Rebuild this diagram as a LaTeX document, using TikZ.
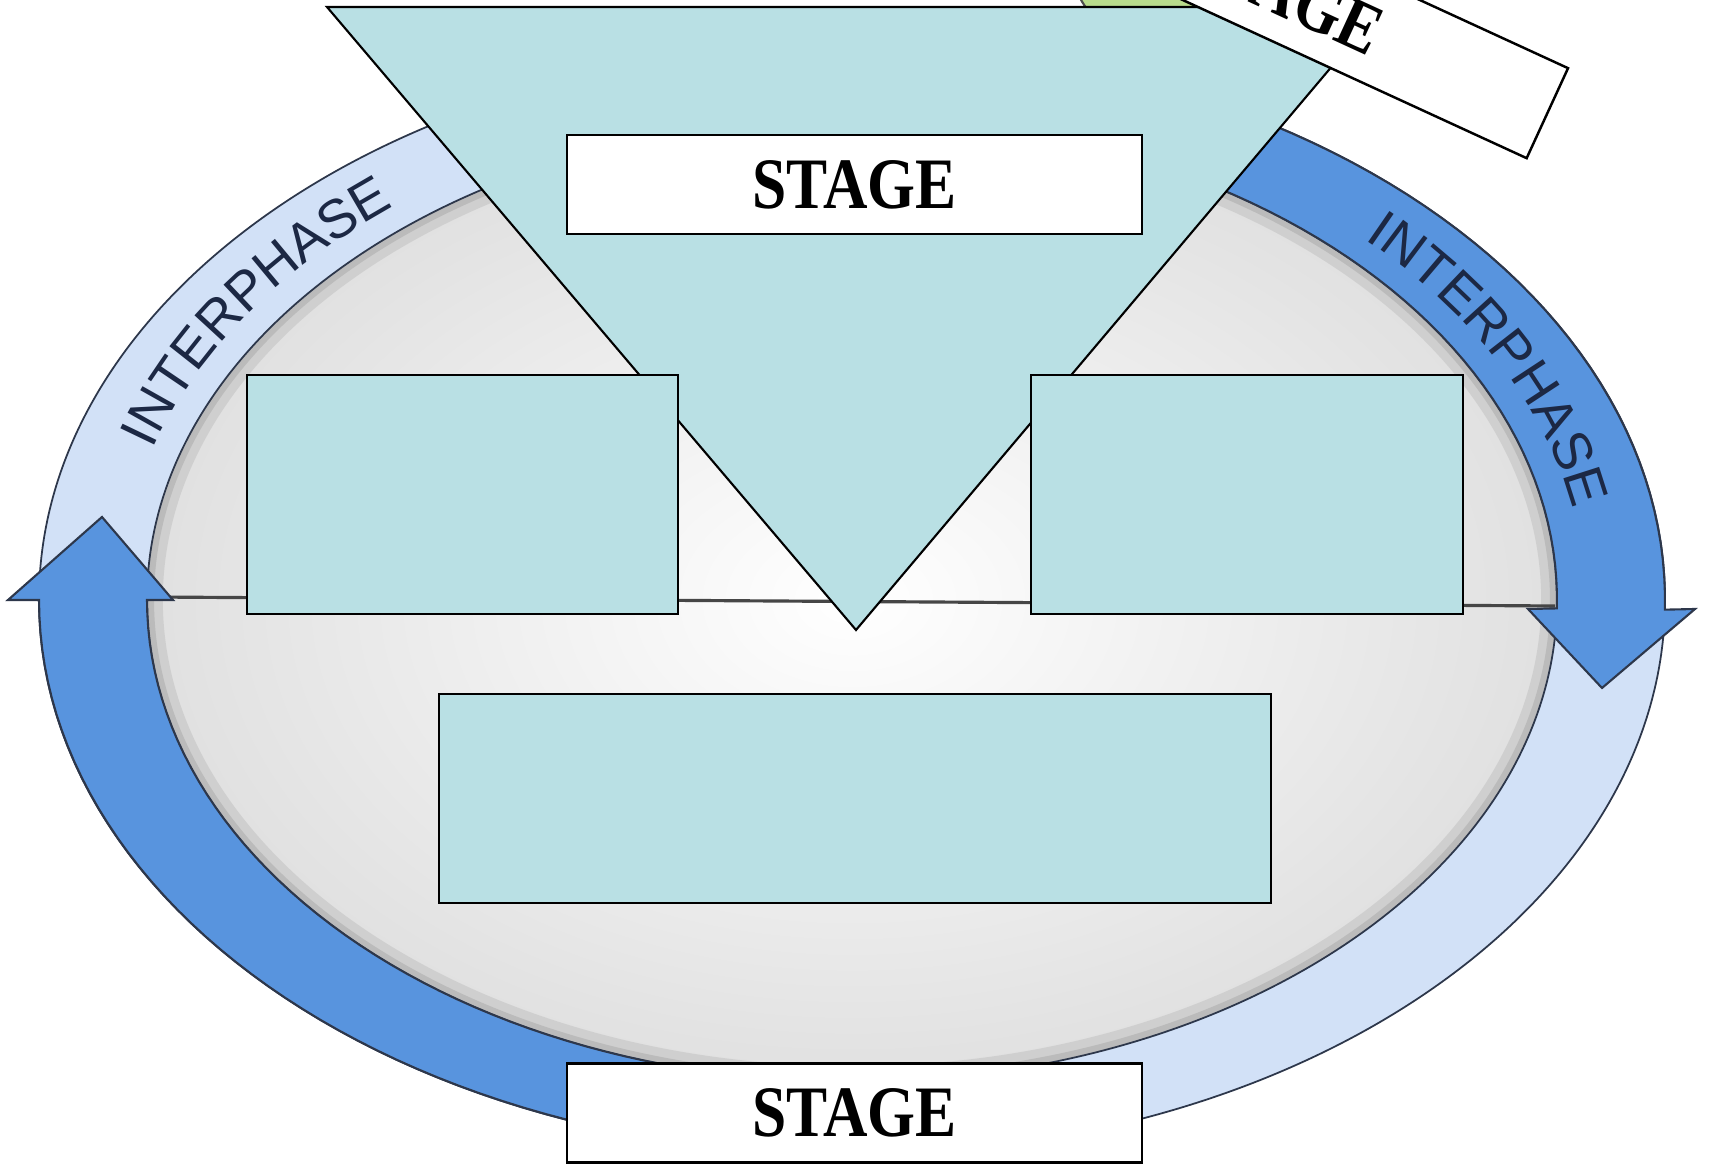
\documentclass[tikz,border=0pt]{standalone}
\usepackage{fontspec}
\usepackage{graphicx}
\usetikzlibrary{decorations.text}
\newfontfamily\stagefont{Liberation Serif}
\newfontfamily\ifam{Liberation Sans}
\newcommand\itxt{\ifam\fontsize{15.5}{16}\selectfont}
\newcommand\stagetxt{\scalebox{0.85}[1]{\stagefont\bfseries\fontsize{20.6}{22}\selectfont STAGE}}
\definecolor{boxcyan}{RGB}{185,224,228}
\definecolor{bandlight}{RGB}{210,225,247}
\definecolor{banddark}{RGB}{88,148,222}
\definecolor{bandline}{RGB}{45,55,75}
\definecolor{navytext}{RGB}{28,40,68}
\definecolor{cellgreen}{RGB}{184,220,140}
\tikzset{
  stagebox/.style={draw=black, fill=white, line width=0.7pt, minimum width=5.75cm, minimum height=0.99cm, inner sep=0pt},
  bluebox/.style={draw=black, fill=boxcyan, line width=0.7pt, inner sep=0pt},
  ringline/.style={draw=bandline, line width=0.5pt},
  arrowfill/.style={fill=banddark, draw=bandline, line width=0.6pt},
  phasetext/.style={decorate, decoration={text along path, text align=center, text color=navytext, text={|\itxt|INTERPHASE}}}
}
\begin{document}
\begin{tikzpicture}[x=0.01cm, y=-0.01cm]
\useasboundingbox (0,0) rectangle (1709,1165);
\clip (0,0) rectangle (1709,1165);
\fill[white] (0,0) rectangle (1709,1165);

% ring band
\fill[bandlight] (852,600) ellipse [x radius=813, y radius=555];
% interior
\shade[inner color=white, outer color=gray!24] (852,600) ellipse [x radius=705, y radius=482];
\begin{scope}
  \clip (852,600) ellipse [x radius=705, y radius=482];
  \draw[gray, opacity=0.18, line width=9pt] (852,600) ellipse [x radius=705, y radius=482];
  \draw[gray, opacity=0.25, line width=4pt] (852,600) ellipse [x radius=705, y radius=482];
\end{scope}
% equator line
\coordinate (eqL) at (150,597);
\coordinate (eqR) at (1555,606);
\draw[gray!55!black, line width=0.9pt] (eqL) -- (eqR);
% ring outlines
\draw[ringline] (852,600) ellipse [x radius=813, y radius=555];
\draw[ringline] (852,600) ellipse [x radius=705, y radius=482];

% left arrow
\filldraw[arrowfill]
  plot[domain=80:180, samples=60] ({852+813*cos(\x)},{600+555*sin(\x)})
  -- (8,600) -- (102,517) -- (173,600)
  -- plot[domain=180:80, samples=60] ({852+705*cos(\x)},{600+482*sin(\x)}) -- cycle;
% right arrow
\filldraw[arrowfill]
  plot[domain=260:361, samples=60] ({852+813*cos(\x)},{600+555*sin(\x)})
  -- (1695,609) -- (1602,688) -- (1528,609)
  -- plot[domain=361:260, samples=60] ({852+705*cos(\x)},{600+482*sin(\x)}) -- cycle;

% INTERPHASE labels
\path[phasetext] ({852+733*cos(171)},{600+504*sin(171)}) arc[start angle=171, end angle=251, x radius=733, y radius=504];
\path[phasetext] ({852+733*cos(295)},{600+504*sin(295)}) arc[start angle=295, end angle=375, x radius=733, y radius=504];

% green cell peeking at top
\filldraw[fill=cellgreen, draw=black!70, line width=0.6pt] (1185,-60) circle [radius=120];

% triangle
\coordinate (tl) at (327,7);
\coordinate (tr) at (1382,7);
\coordinate (ap) at (856,630);
\filldraw[fill=boxcyan, draw=black, line width=0.6pt] (tl) -- (tr) -- (ap) -- cycle;

% boxes
\node[bluebox, minimum width=4.31cm, minimum height=2.39cm] (boxL) at (462.5,494.5) {};
\node[bluebox, minimum width=4.32cm, minimum height=2.39cm] (boxR) at (1247,494.5) {};
\node[bluebox, minimum width=8.32cm, minimum height=2.09cm] (boxB) at (855,798.5) {};
\node[stagebox] (stTop) at (854.5,184.5) {\stagetxt};
\node[stagebox] (stBot) at (854.5,1113) {\stagetxt};
\node[stagebox, rotate=-24.7] (stRot) at (1286,-7) {\stagetxt};
\end{tikzpicture}
\end{document}
